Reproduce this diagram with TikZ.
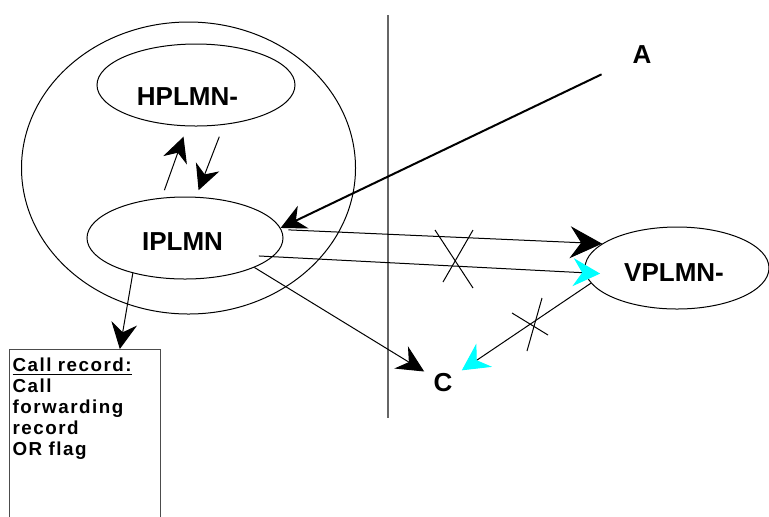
\documentclass[tikz,border=0pt]{standalone}
\usepackage{fontspec}
\setmainfont{Liberation Sans}
\usetikzlibrary{arrows.meta}
\usetikzlibrary{shapes.geometric}
\definecolor{aqua}{RGB}{0,255,255}

\begin{document}
\begin{tikzpicture}[x=0.5pt, y=-0.5pt]
        \tikzset{net/.style = {shape=ellipse,draw,inner sep=0pt,line width=0.5pt}}
        \tikzset{lbl/.style = {font=\bfseries\fontsize{13}{15}\selectfont, inner sep=0pt}}
        \tikzset{recbox/.style = {draw=black!70, line width=0.6pt, align=left, text width=72.5pt,
            inner xsep=1.5pt, inner ysep=4pt, text depth=80pt,
            font=\bfseries\fontsize{9.4}{10.5}\selectfont\addfontfeature{LetterSpace=8}}}
        \tikzset{edge/.style = {-,line width=0.5pt}}
        \tikzset{barb/.style = {-{Stealth[length=12.5pt,width=12.5pt,inset=4pt]}}}
        \tikzset{bigbarb/.style = {-{Stealth[length=16pt,width=16pt,inset=5.5pt]}}}
        \tikzset{cyanbarb/.style = {-{Stealth[length=13.5pt,width=14pt,inset=4.5pt,color=aqua]}}}
        \useasboundingbox (0,0) rectangle (769,516);
        \clip (0,0) rectangle (769,516);

        \node[net, minimum width=167pt, minimum height=146pt] (home) at (188.5,168) {};
        \node[net, minimum width=99pt, minimum height=41pt,
            label={[lbl,xshift=-4.25pt,yshift=-6pt]center:HPLMN-}] (hplmn) at (196,85) {};
        \node[net, minimum width=98pt, minimum height=41pt,
            label={[lbl,xshift=-1.25pt,yshift=-1.75pt]center:IPLMN}] (iplmn) at (185,238) {};
        \node[net, minimum width=92pt, minimum height=41pt,
            label={[lbl,xshift=-1.5pt,yshift=-2.25pt]center:VPLMN-}] (vplmn) at (677,268) {};
        \node[lbl] (a) at (642,55) {A};
        \node[lbl, inner sep=4.5pt] (c) at (443,383) {C};
        \node[recbox, anchor=north west] (rec) at (9,349)
            {\underline{Call record:}\\Call\\forwarding\\record\\OR flag};

        % roaming boundary
        \draw[draw=black!60, line width=0.75pt] (388,15) -- (388,418);

        \draw[edge, line width=1pt, barb, shorten <=17pt] (a) to (iplmn.6);
        \draw[edge, barb, shorten <=4pt, shorten >=5.5pt] (iplmn.120) to (hplmn.258);
        \draw[edge, barb, shorten <=6.35pt, shorten >=3.5pt] (hplmn.305) to (iplmn.75);
        \draw[edge, bigbarb, shorten <=3.5pt] (iplmn.5) to (vplmn.162);
        \draw[edge, cyanbarb, shorten <=-7pt, shorten >=-7.5pt] (iplmn.-12) to (vplmn.183);
        \draw[edge, -{Stealth[length=13.5pt,width=13pt,inset=4.5pt]}] (iplmn.-23) to (c);
        \draw[edge, cyanbarb] (vplmn.190) to (c);
        \draw[edge, -{Stealth[length=13pt,width=13pt,inset=4.5pt]}] (iplmn.214) to (rec.70);

        % barred paths
        \draw[edge] (435,230) -- (473,288);
        \draw[edge] (473,230) -- (443,282);
        \draw[edge] (512,313) -- (548,335);
        \draw[edge] (542,298) -- (527,351);
      \end{tikzpicture}
\end{document}
